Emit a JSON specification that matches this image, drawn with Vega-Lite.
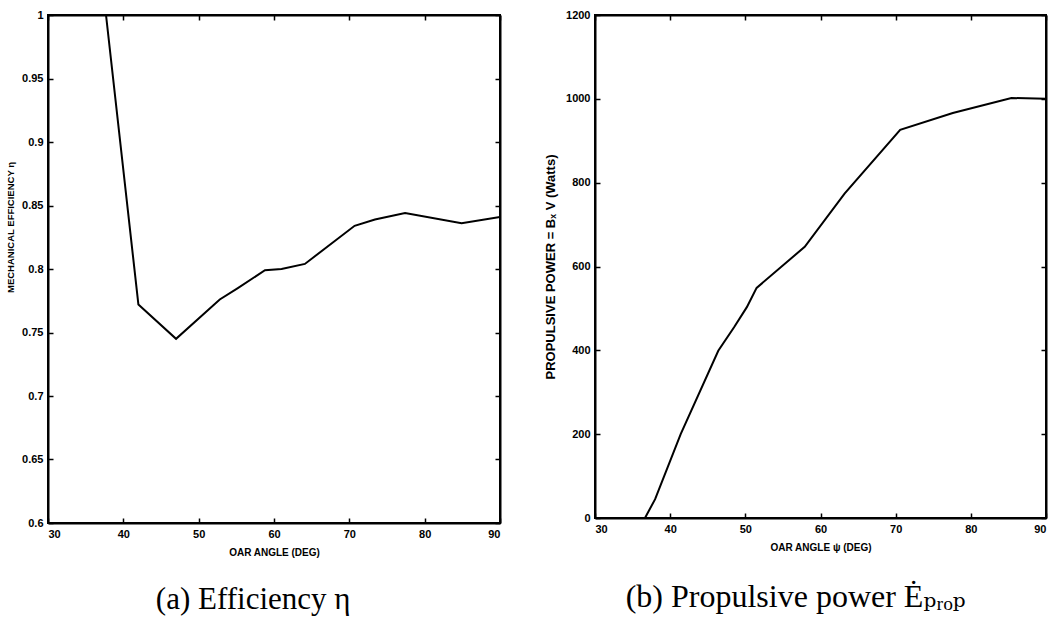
{
  "$schema": "https://vega.github.io/schema/vega-lite/v6.json",
  "background": "white",
  "padding": {"left": 4, "top": 8, "right": 0, "bottom": 0},
  "datasets": {
    "eff": [
      {"angle": 37.7, "eta": 1.0},
      {"angle": 42.0, "eta": 0.772},
      {"angle": 47.0, "eta": 0.745},
      {"angle": 52.8, "eta": 0.776},
      {"angle": 55.2, "eta": 0.785},
      {"angle": 58.8, "eta": 0.799},
      {"angle": 61.0, "eta": 0.800},
      {"angle": 64.1, "eta": 0.804},
      {"angle": 70.7, "eta": 0.834},
      {"angle": 73.4, "eta": 0.839},
      {"angle": 77.4, "eta": 0.844},
      {"angle": 84.9, "eta": 0.836},
      {"angle": 90.0, "eta": 0.841}
    ],
    "power": [
      {"angle": 36.65, "watts": 0},
      {"angle": 38.0, "watts": 45},
      {"angle": 41.4, "watts": 200},
      {"angle": 46.4, "watts": 399},
      {"angle": 48.5, "watts": 455},
      {"angle": 50.2, "watts": 503},
      {"angle": 51.5, "watts": 549},
      {"angle": 57.9, "watts": 647},
      {"angle": 63.2, "watts": 774},
      {"angle": 70.6, "watts": 926},
      {"angle": 77.6, "watts": 966},
      {"angle": 85.4, "watts": 1002},
      {"angle": 90.0, "watts": 1000}
    ]
  },
  "spacing": 41,
  "hconcat": [
    {
      "width": 452,
      "height": 508,
      "title": {"text": "(a) Efficiency η", "orient": "bottom", "frame": "bounds", "anchor": "middle", "font": "'Liberation Serif', 'DejaVu Serif', serif", "fontSize": 31, "fontWeight": "normal", "color": "black", "offset": 28},
      "data": {"name": "eff"},
      "layer": [
        {
          "mark": {"type": "line", "color": "black", "strokeWidth": 2, "clip": true},
          "encoding": {
            "x": {"field": "angle", "type": "quantitative", "scale": {"domain": [30, 90], "nice": false, "zero": false},
              "axis": {"orient": "bottom", "values": [30, 40, 50, 60, 70, 80, 90], "title": "OAR ANGLE (DEG)", "titlePadding": 8}},
            "y": {"field": "eta", "type": "quantitative", "scale": {"domain": [0.6, 1.0], "nice": false, "zero": false},
              "axis": {"orient": "left", "values": [0.6, 0.65, 0.7, 0.75, 0.8, 0.85, 0.9, 0.95, 1.0], "format": "~g", "title": "MECHANICAL EFFICIENCY η", "titleY": 212, "titleFontSize": 9.5, "titlePadding": 6}}
          }
        },
        {
          "mark": {"type": "line", "opacity": 0},
          "encoding": {
            "x": {"field": "angle", "type": "quantitative",
              "axis": {"orient": "top", "values": [30, 40, 50, 60, 70, 80, 90], "labels": false, "title": null}},
            "y": {"field": "eta", "type": "quantitative",
              "axis": {"orient": "right", "values": [0.6, 0.65, 0.7, 0.75, 0.8, 0.85, 0.9, 0.95, 1.0], "labels": false, "title": null}}
          }
        }
      ],
      "resolve": {"axis": {"x": "independent", "y": "independent"}}
    },
    {
      "width": 451,
      "height": 503,
      "title": {"text": "(b) Propulsive power Ėₚᵣₒₚ", "orient": "bottom", "frame": "bounds", "anchor": "middle", "font": "'Liberation Serif', 'DejaVu Serif', serif", "fontSize": 32, "fontWeight": "normal", "color": "black", "offset": 30},
      "data": {"name": "power"},
      "layer": [
        {
          "mark": {"type": "line", "color": "black", "strokeWidth": 2, "clip": true},
          "encoding": {
            "x": {"field": "angle", "type": "quantitative", "scale": {"domain": [30, 90], "nice": false, "zero": false},
              "axis": {"orient": "bottom", "values": [30, 40, 50, 60, 70, 80, 90], "title": "OAR ANGLE ψ (DEG)", "titlePadding": 8}},
            "y": {"field": "watts", "type": "quantitative", "scale": {"domain": [0, 1200], "nice": false},
              "axis": {"orient": "left", "values": [0, 200, 400, 600, 800, 1000, 1200], "format": "d", "title": "PROPULSIVE POWER = Bₓ V (Watts)", "titleFontSize": 13, "titlePadding": 8}}
          }
        },
        {
          "mark": {"type": "line", "opacity": 0},
          "encoding": {
            "x": {"field": "angle", "type": "quantitative",
              "axis": {"orient": "top", "values": [30, 40, 50, 60, 70, 80, 90], "labels": false, "title": null}},
            "y": {"field": "watts", "type": "quantitative",
              "axis": {"orient": "right", "values": [0, 200, 400, 600, 800, 1000, 1200], "labels": false, "title": null}}
          }
        }
      ],
      "resolve": {"axis": {"x": "independent", "y": "independent"}}
    }
  ],
  "config": {
    "view": {"stroke": "black", "strokeWidth": 2},
    "axis": {
      "domainColor": "black",
      "domainWidth": 2,
      "tickColor": "black",
      "tickWidth": 1.5,
      "tickSize": -5,
      "labelPadding": 10,
      "grid": false,
      "labelFont": "Liberation Sans",
      "labelFontSize": 11,
      "labelFontWeight": "bold",
      "labelColor": "black",
      "titleFont": "Liberation Sans",
      "titleFontSize": 10,
      "titleFontWeight": "bold",
      "titleColor": "black",
      "titlePadding": 6
    }
  }
}
